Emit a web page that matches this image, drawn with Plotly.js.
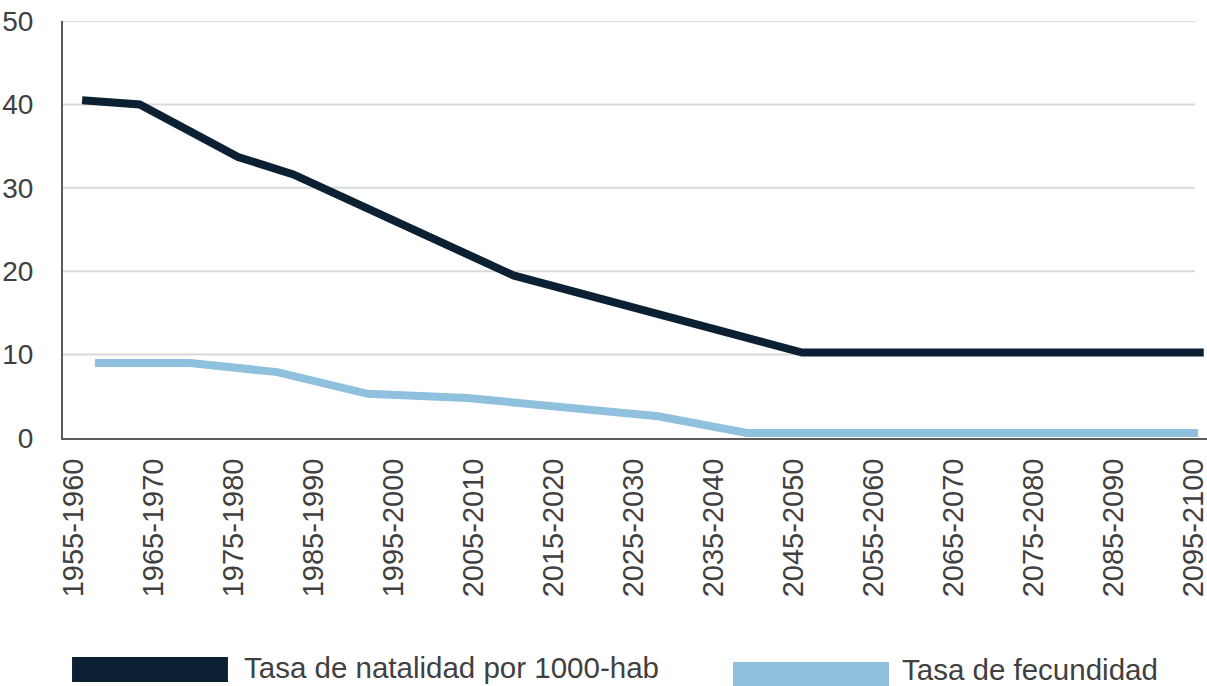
<!DOCTYPE html>
<html>
<head>
<meta charset="utf-8">
<script src="https://cdn.plot.ly/plotly-3.0.1.min.js"></script>
<style>
  html, body { margin: 0; padding: 0; background: #ffffff; }
  #chart { width: 1207px; height: 686px; }
</style>
</head>
<body>
<div id="chart"></div>
<script>
// Tick labels (five-year periods) and their position on the year axis
const periodLabels = ['1955-1960','1965-1970','1975-1980','1985-1990','1995-2000','2005-2010','2015-2020','2025-2030','2035-2040','2045-2050','2055-2060','2065-2070','2075-2080','2085-2090','2095-2100'];
const periodYears = [1957.5,1967.5,1977.5,1987.5,1997.5,2007.5,2017.5,2027.5,2037.5,2047.5,2057.5,2067.5,2077.5,2087.5,2097.5];

// Series names
const seriesNames = ['Tasa de natalidad por 1000-hab', 'Tasa de fecundidad'];

// Tasa de natalidad por 1000-hab
const natalidadYears = [1958.6, 1965.8, 1978.1, 1985.0, 2012.5, 2048.6, 2098.8];
const natalidadValues = [40.5, 40.0, 33.7, 31.6, 19.5, 10.25, 10.25];

// Tasa de fecundidad
const fecundidadYears = [1960.2, 1972.1, 1983.0, 1994.3, 2006.7, 2030.6, 2041.7, 2098.1];
const fecundidadValues = [9.0, 9.0, 7.9, 5.3, 4.8, 2.6, 0.6, 0.6];

// Y axis ticks
const yTicks = [0, 10, 20, 30, 40, 50];

const colors = ['#0c2033', '#8fc0de'];
const fontFamily = 'Liberation Sans, Arial, sans-serif';
const textColor = '#404040';

const traces = [
  {
    x: natalidadYears, y: natalidadValues, name: seriesNames[0],
    type: 'scatter', mode: 'lines',
    line: { color: colors[0], width: 8 },
    showlegend: false, hoverinfo: 'x+y'
  },
  {
    x: fecundidadYears, y: fecundidadValues, name: seriesNames[1],
    type: 'scatter', mode: 'lines',
    line: { color: colors[1], width: 8 },
    showlegend: false, hoverinfo: 'x+y'
  }
];

// Gridlines (stop short of the right edge, like the reference)
const shapes = yTicks.filter(v => v > 0).map(v => ({
  type: 'line', xref: 'paper', yref: 'y', x0: 0, x1: 0.9895, y0: v, y1: v,
  line: { color: '#d9d9d9', width: 2 }, layer: 'below'
}));

// Custom legend swatches
const swatches = [
  { x0: 0.0079, x1: 0.1442, y0: -0.585, y1: -0.525 },
  { x0: 0.5857, x1: 0.7220, y0: -0.595, y1: -0.537 }
];
swatches.forEach((s, i) => {
  shapes.push({
    type: 'rect', xref: 'paper', yref: 'paper',
    x0: s.x0, x1: s.x1, y0: s.y0, y1: s.y1,
    fillcolor: colors[i], line: { width: 0 }
  });
});

const legendTextPos = [
  { x: 0.1565, y: -0.550 },
  { x: 0.7315, y: -0.555 }
];
const annotations = seriesNames.map((name, i) => ({
  text: name, xref: 'paper', yref: 'paper',
  x: legendTextPos[i].x, y: legendTextPos[i].y,
  xanchor: 'left', yanchor: 'middle', showarrow: false,
  font: { family: fontFamily, size: 29.5, color: textColor }
}));

const layout = {
  width: 1207, height: 686,
  margin: { l: 63, r: 0, t: 21, b: 248, pad: 0 },
  paper_bgcolor: '#ffffff', plot_bgcolor: '#ffffff',
  showlegend: false,
  font: { family: fontFamily, size: 28, color: textColor },
  xaxis: {
    type: 'linear',
    range: [1956.21, 2099.21],
    tickmode: 'array', tickvals: periodYears, ticktext: periodLabels,
    tickangle: -90,
    tickfont: { family: fontFamily, size: 29, color: textColor },
    showgrid: false, zeroline: false,
    showline: true, linecolor: '#5a5a5a', linewidth: 2,
    ticks: '', ticklabelstandoff: 7,
    ticklabeloverflow: 'allow',
    fixedrange: true
  },
  yaxis: {
    range: [0, 50],
    tickmode: 'array', tickvals: yTicks,
    tickfont: { family: fontFamily, size: 28, color: textColor },
    showgrid: false, zeroline: false,
    showline: true, linecolor: '#5a5a5a', linewidth: 2,
    ticks: '', ticklabelstandoff: 22,
    fixedrange: true
  },
  shapes: shapes,
  annotations: annotations
};

Plotly.newPlot('chart', traces, layout, { displayModeBar: false, staticPlot: true });
</script>
</body>
</html>
